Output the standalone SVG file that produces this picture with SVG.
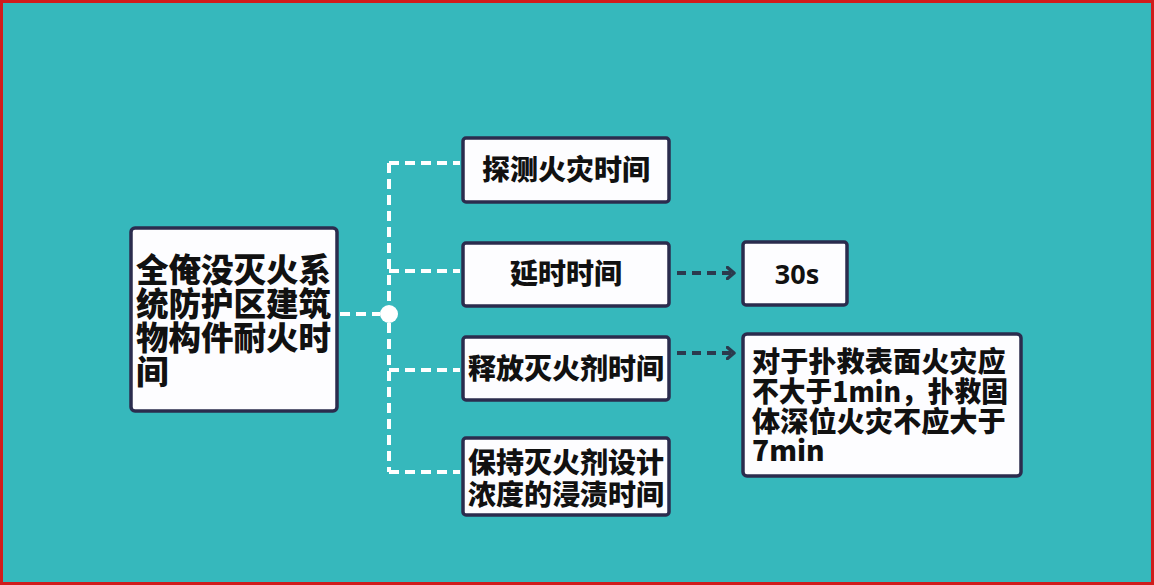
<svg xmlns="http://www.w3.org/2000/svg" width="1154" height="585" viewBox="0 0 1154 585">
<defs>
<style>
.box{fill:#fdfdff;stroke:#2b2c4e;stroke-width:3.5}
.t{font-family:"Noto Sans CJK SC","Noto Sans",sans-serif;font-weight:900;fill:#111;font-size:28px}
.m{font-size:32.5px}
.b{font-size:28.2px}
.wd{fill:none;stroke:#ffffff;stroke-width:4;stroke-dasharray:10 6}
.dd{fill:none;stroke:#2b3a4e;stroke-width:4;stroke-dasharray:9 6}
</style>
<marker id="ah" viewBox="0 0 10 14" refX="7" refY="7" markerWidth="10" markerHeight="14" markerUnits="userSpaceOnUse" orient="auto">
<path d="M1.5,1.5 L8,7 L1.5,12.5" fill="none" stroke="#2b3a4e" stroke-width="3.5" stroke-linecap="round" stroke-linejoin="round"/>
</marker>
</defs>
<rect x="0" y="0" width="1154" height="585" fill="#36b8bc"/>
<rect x="1.5" y="1.5" width="1151" height="582" fill="none" stroke="#d01c1c" stroke-width="3"/>
<g id="connectors">
<path class="wd" d="M340,314 H380"/>
<path class="wd" d="M389,163 V472"/>
<path class="wd" d="M389,163 H460"/>
<path class="wd" d="M389,271 H460"/>
<path class="wd" d="M389,370 H460"/>
<path class="wd" d="M389,472 H460"/>
<circle cx="389" cy="314" r="9" fill="#ffffff"/>
<path class="dd" d="M677,273 H733" marker-end="url(#ah)"/>
<path class="dd" d="M677,353 H733" marker-end="url(#ah)"/>
</g>
<g id="main">
<rect class="box" x="131" y="228" width="206" height="183" rx="4"/>
<text class="t m" x="136" y="282">全俺没灭火系</text>
<text class="t m" x="136" y="316">统防护区建筑</text>
<text class="t m" x="136" y="350">物构件耐火时</text>
<text class="t m" x="136" y="384">间</text>
</g>
<g id="n1">
<rect class="box" x="463" y="138" width="206" height="64" rx="3"/>
<text class="t" x="566" y="180" text-anchor="middle">探测火灾时间</text>
</g>
<g id="n2">
<rect class="box" x="463" y="243" width="206" height="63" rx="3"/>
<text class="t" x="566" y="284" text-anchor="middle">延时时间</text>
</g>
<g id="n3">
<rect class="box" x="463" y="337" width="206" height="63" rx="3"/>
<text class="t" x="566" y="379" text-anchor="middle">释放灭火剂时间</text>
</g>
<g id="n4">
<rect class="box" x="463" y="438" width="206" height="77" rx="3"/>
<text class="t" x="566" y="473" text-anchor="middle">保持灭火剂设计</text>
<text class="t" x="566" y="505" text-anchor="middle">浓度的浸渍时间</text>
</g>
<g id="n5">
<rect class="box" x="743" y="242" width="104" height="63" rx="3"/>
<text x="797" y="284" text-anchor="middle" style="font-family:'Noto Sans','Open Sans',sans-serif;font-weight:700;font-size:27px;fill:#111">30s</text>
</g>
<g id="n6">
<rect class="box" x="743" y="334" width="278" height="142" rx="4"/>
<text class="t b" x="752" y="372">对于扑救表面火灾应</text>
<text class="t b" x="752" y="402" textLength="256" lengthAdjust="spacingAndGlyphs">不大于1min，扑救固</text>
<text class="t b" x="752" y="432">体深位火灾不应大于</text>
<text class="t b" x="752" y="461">7min</text>
</g>
</svg>
